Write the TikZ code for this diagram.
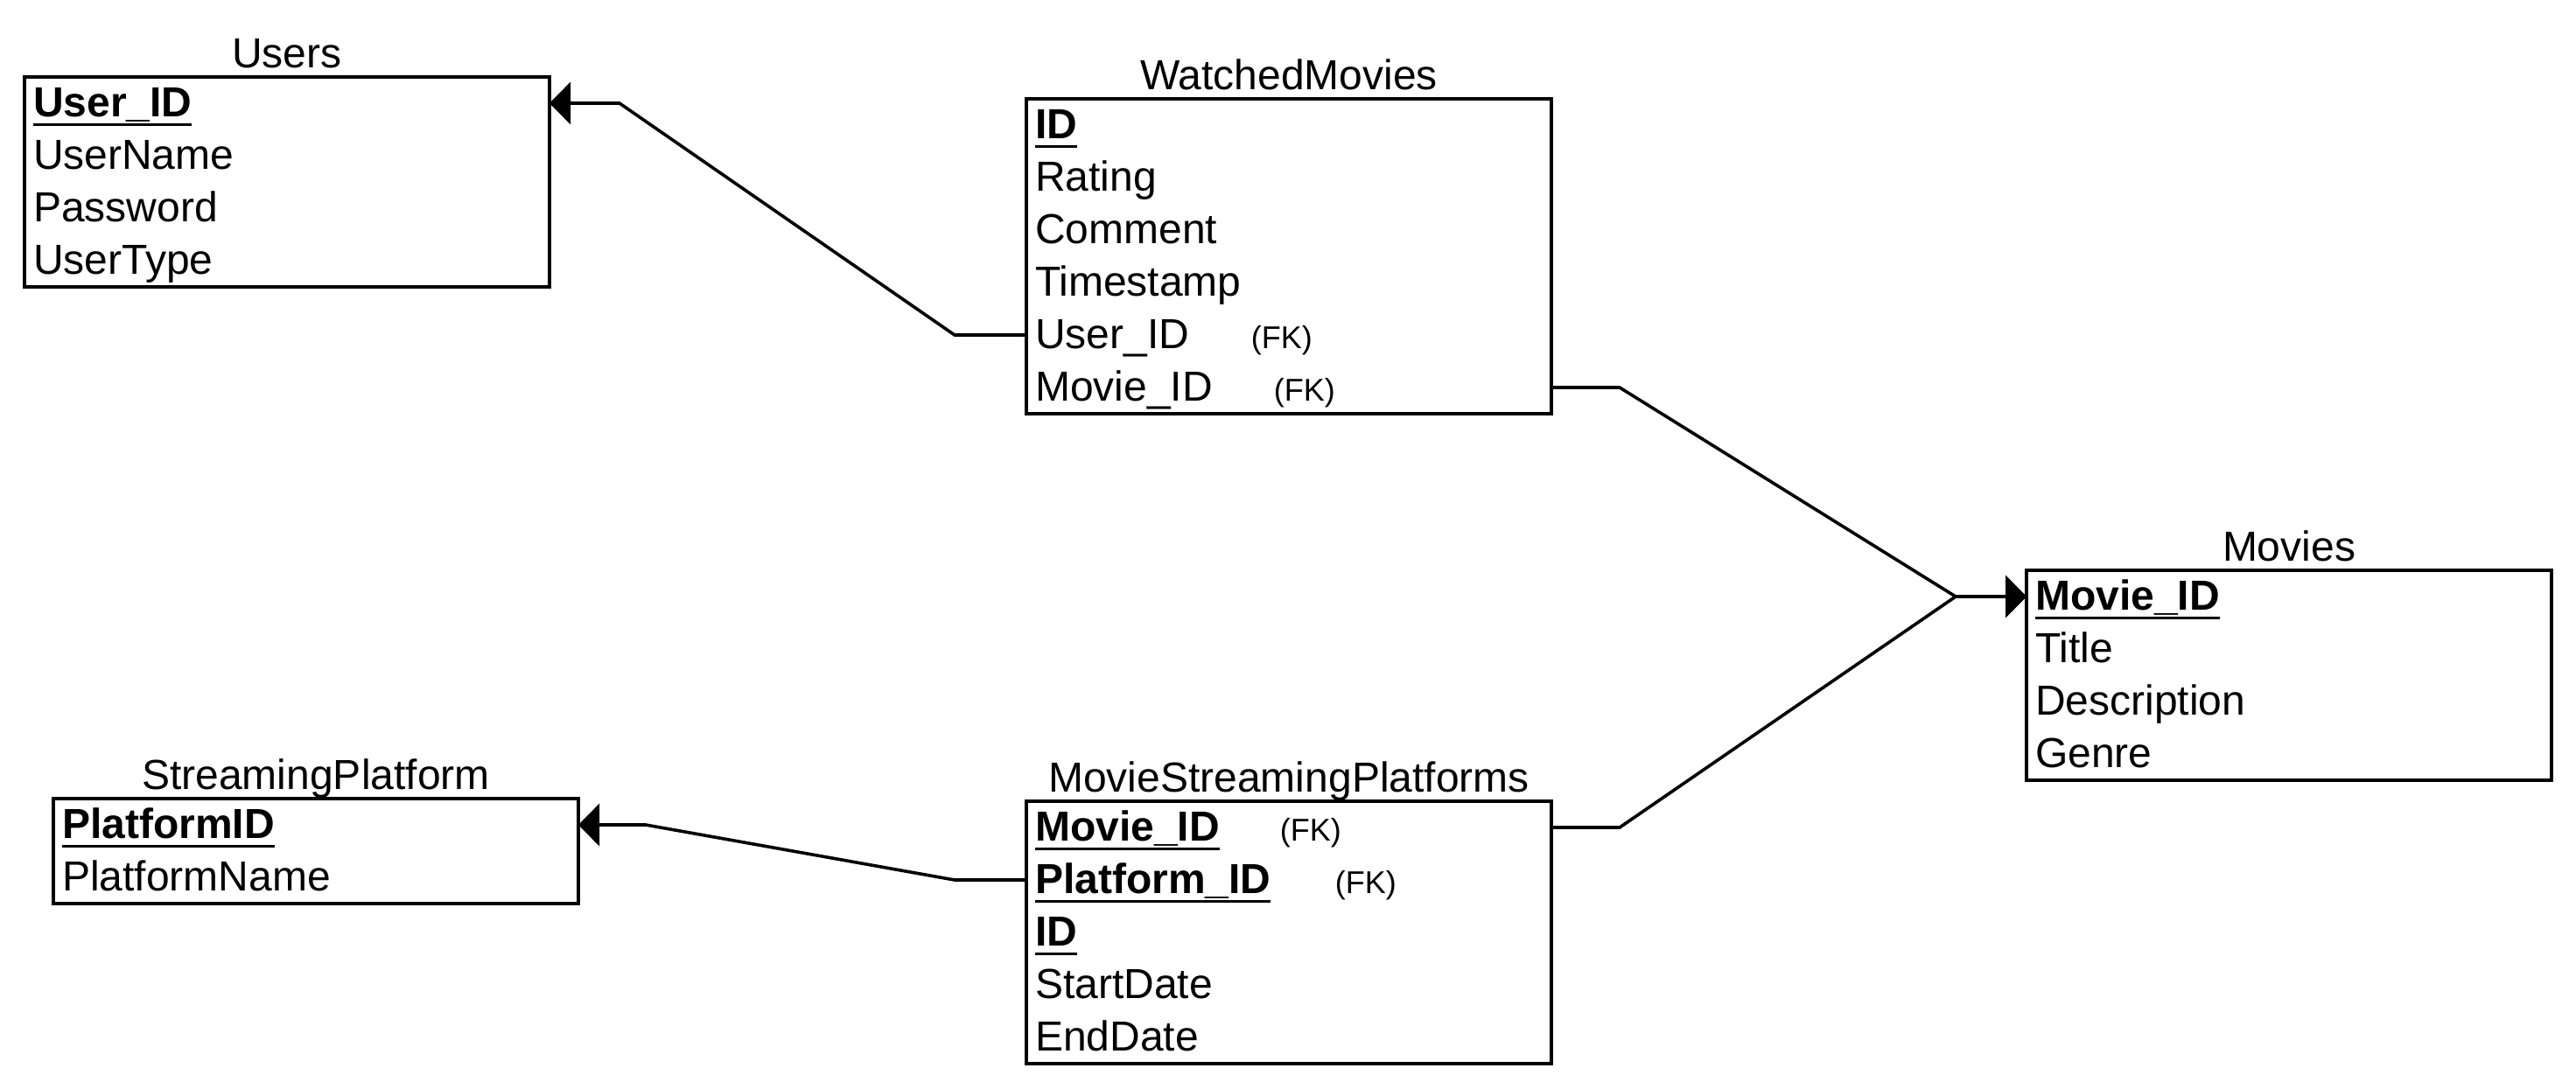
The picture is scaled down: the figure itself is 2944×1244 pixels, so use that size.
\documentclass[tikz,border=0pt]{standalone}
\usepackage{fontspec}
\setmainfont{Liberation Sans}
\usetikzlibrary{arrows.meta,calc}
\newcommand{\keyf}[1]{\setbox0=\hbox{\bfseries #1}\rlap{\rule[-2.75pt]{\wd0}{0.8pt}}\box0}
\tikzset{
  tbl/.style={draw, line width=0.9pt, anchor=north west, minimum width=150pt, inner sep=0pt, outer sep=0pt},
  row/.style={anchor=north west, inner xsep=2.5pt, inner ysep=0pt, outer sep=0pt,
              text height=11.3pt, text depth=3.7pt, font=\fontsize{12pt}{14pt}\selectfont},
  ttl/.style={anchor=base, inner sep=0pt, font=\fontsize{12pt}{14pt}\selectfont},
  fk/.style={anchor=base west, inner sep=0pt, font=\fontsize{9pt}{10pt}\selectfont},
  link/.style={line width=0.9pt, line join=miter},
  tip/.style={-{Triangle[length=6pt,width=12pt]}}
}
\begin{document}
\begin{tikzpicture}[x=0.25pt,y=-0.25pt]
\useasboundingbox (0,0) rectangle (2944,1244);

% Users
\node[tbl, minimum height=60pt] (users) at (28,88) {};
\node[ttl] (tusers) at ($(users.north)+(0,-11)$) {Users};
\node[row] (u1) at (28,88)  {\keyf{User\_ID}};
\node[row] (u2) at (28,148) {UserName};
\node[row] (u3) at (28,208) {Password};
\node[row] (u4) at (28,268) {UserType};

% WatchedMovies
\node[tbl, minimum height=90pt] (wm) at (1173,113) {};
\node[ttl] (twm) at ($(wm.north)+(0,-11)$) {WatchedMovies};
\node[row] (wm1) at (1173,113) {\keyf{ID}};
\node[row] (wm2) at (1173,173) {Rating};
\node[row] (wm3) at (1173,233) {Comment};
\node[row] (wm4) at (1173,293) {Timestamp};
\node[row] (wm5) at (1173,353) {User\_ID};
\node[row] (wm6) at (1173,413) {Movie\_ID};
\node[fk] (wmfk1) at ($(wm5.base west)+(256,0)$) {(FK)};
\node[fk] (wmfk2) at ($(wm6.base west)+(282,0)$) {(FK)};

% Movies
\node[tbl, minimum height=60pt] (movies) at (2316,652) {};
\node[ttl] (tmovies) at ($(movies.north)+(0,-11)$) {Movies};
\node[row] (m1) at (2316,652) {\keyf{Movie\_ID}};
\node[row] (m2) at (2316,712) {Title};
\node[row] (m3) at (2316,772) {Description};
\node[row] (m4) at (2316,832) {Genre};

% StreamingPlatform
\node[tbl, minimum height=30pt] (sp) at (61,913) {};
\node[ttl] (tsp) at ($(sp.north)+(0,-11)$) {StreamingPlatform};
\node[row] (sp1) at (61,913) {\keyf{PlatformID}};
\node[row] (sp2) at (61,973) {PlatformName};

% MovieStreamingPlatforms
\node[tbl, minimum height=75pt] (msp) at (1173,916) {};
\node[ttl] (tmsp) at ($(msp.north)+(0,-11)$) {MovieStreamingPlatforms};
\node[row] (ms1) at (1173,916)  {\keyf{Movie\_ID}};
\node[row] (ms2) at (1173,976)  {\keyf{Platform\_ID}};
\node[row] (ms3) at (1173,1036) {\keyf{ID}};
\node[row] (ms4) at (1173,1096) {StartDate};
\node[row] (ms5) at (1173,1156) {EndDate};
\node[fk] (msfk1) at ($(ms1.base west)+(289,0)$) {(FK)};
\node[fk] (msfk2) at ($(ms2.base west)+(352,0)$) {(FK)};

% connectors
\coordinate (join) at ($(movies.west |- m1.west)+(-81,0)$);
\draw[link,tip] (wm5.west) -- ++(-82,0) -- ($(users.east |- u1.west)+(80,0)$) -- (users.east |- u1.west);
\draw[link,tip] (wm.east |- wm6.west) -- ++(78,0) -- (join) -- (movies.west |- m1.west);
\draw[link,tip] (msp.east |- ms1.west) -- ++(78,0) -- (join) -- (movies.west |- m1.west);
\draw[link,tip] (ms2.west) -- ++(-82,0) -- ($(sp.east |- sp1.west)+(77,0)$) -- (sp.east |- sp1.west);
\end{tikzpicture}
\end{document}
